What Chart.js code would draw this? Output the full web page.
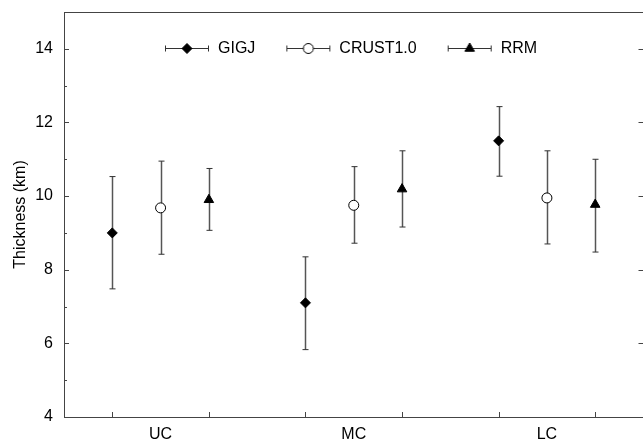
<!DOCTYPE html>
<html>
<head>
<meta charset="utf-8">
<script src="https://cdn.jsdelivr.net/npm/chart.js@4.4.1/dist/chart.umd.min.js"></script>
<style>
  html, body { margin: 0; padding: 0; background: #fff; overflow: hidden; }
  #wrap { width: 650px; height: 441px; }
</style>
</head>
<body>
<div id="wrap"><canvas id="chart" width="650" height="441"></canvas></div>
<script>
// categories along x, one group of three estimates each
const categories = ["UC", "MC", "LC"];
const seriesNames = ["GIGJ", "CRUST1.0", "RRM"];
const seriesOffsets = [-0.25, 0, 0.25];

// thickness (km)
const gigjMean = [9.0, 7.1, 11.5];
const gigjLow = [7.48, 5.83, 10.54];
const gigjHigh = [10.53, 8.35, 12.43];

const crustMean = [9.68, 9.75, 9.95];
const crustLow = [8.42, 8.72, 8.7];
const crustHigh = [10.95, 10.8, 11.23];

const rrmMean = [9.9, 10.19, 9.77];
const rrmLow = [9.07, 9.16, 8.48];
const rrmHigh = [10.75, 11.23, 11.0];

const yMin = 4;
const yMax = 15;

const means = [gigjMean, crustMean, rrmMean];
const lows = [gigjLow, crustLow, rrmLow];
const highs = [gigjHigh, crustHigh, rrmHigh];
const markers = [
  { pointStyle: "rectRot", radius: 5, fill: "#000" },
  { pointStyle: "circle", radius: 5, fill: "#fff" },
  { pointStyle: "triangle", radius: 5.5, fill: "#000" },
];

const FONT = "'Liberation Sans', Arial, Helvetica, sans-serif";
Chart.defaults.font.family = FONT;
Chart.defaults.font.size = 16;
Chart.defaults.color = "#000";

// legend symbol: horizontal bar with caps and the marker in the middle
function makeLegendIcon(marker) {
  const c = document.createElement("canvas");
  c.width = 46;
  c.height = 12;
  const ctx = c.getContext("2d");
  ctx.strokeStyle = "#333";
  ctx.lineWidth = 1;
  ctx.beginPath();
  ctx.moveTo(1, 6.5);
  ctx.lineTo(45, 6.5);
  ctx.moveTo(1.5, 3.5);
  ctx.lineTo(1.5, 9.5);
  ctx.moveTo(44.5, 3.5);
  ctx.lineTo(44.5, 9.5);
  ctx.stroke();
  ctx.fillStyle = marker.fill;
  ctx.strokeStyle = "#000";
  Chart.helpers.drawPoint(ctx, {
    pointStyle: marker.pointStyle,
    radius: marker.radius,
    rotation: 0,
    borderWidth: 1,
  }, 23, 6.5);
  return c;
}
const legendIcons = markers.map(makeLegendIcon);

const datasets = seriesNames.map((name, s) => ({
  label: name,
  data: categories.map((c, i) => ({ x: i + 1 + seriesOffsets[s], y: means[s][i] })),
  pointStyle: markers[s].pointStyle,
  pointRadius: markers[s].radius,
  pointBackgroundColor: markers[s].fill,
  pointBorderColor: "#000",
  pointBorderWidth: 1,
  showLine: false,
}));

// tick marks under the outer series of each group
const xTickMarks = [];
categories.forEach((c, i) => {
  xTickMarks.push(i + 1 + seriesOffsets[0], i + 1 + seriesOffsets[2]);
});

const errorBars = {
  id: "errorBars",
  beforeDatasetsDraw(chart) {
    const { ctx, scales: { x, y } } = chart;
    ctx.save();
    datasets.forEach((ds, s) => {
      ds.data.forEach((p, i) => {
        const px = Math.round(x.getPixelForValue(p.x)) + 0.5;
        const yl = y.getPixelForValue(lows[s][i]);
        const yh = y.getPixelForValue(highs[s][i]);
        ctx.strokeStyle = "#555";
        ctx.lineWidth = 1.5;
        ctx.beginPath();
        ctx.moveTo(px, yl);
        ctx.lineTo(px, yh);
        ctx.stroke();
        ctx.strokeStyle = "#333";
        ctx.lineWidth = 1;
        ctx.beginPath();
        ctx.moveTo(px - 3, yl);
        ctx.lineTo(px + 3, yl);
        ctx.moveTo(px - 3, yh);
        ctx.lineTo(px + 3, yh);
        ctx.stroke();
      });
    });
    ctx.restore();
  },
};

// frame, inward tick marks and the legend row inside the plot
const frame = {
  id: "frame",
  afterDraw(chart) {
    const { ctx, chartArea: a, scales: { x, y } } = chart;
    ctx.save();
    ctx.strokeStyle = "#444";
    ctx.lineWidth = 1;
    ctx.strokeRect(Math.round(a.left) + 0.5, Math.round(a.top) + 0.5,
      Math.round(a.right - a.left), Math.round(a.bottom - a.top));
    ctx.beginPath();
    y.ticks.forEach((t) => {
      const py = Math.round(y.getPixelForValue(t.value)) + 0.5;
      const major = t.value % 2 === 0;
      ctx.moveTo(a.left, py);
      ctx.lineTo(a.left + (major ? 5 : 3), py);
      if (major) {
        ctx.moveTo(a.right, py);
        ctx.lineTo(a.right - 5, py);
      }
    });
    xTickMarks.forEach((v) => {
      const px = Math.round(x.getPixelForValue(v)) + 0.5;
      ctx.moveTo(px, a.bottom);
      ctx.lineTo(px, a.bottom - 5);
    });
    ctx.stroke();

    // legend
    ctx.font = "16px " + FONT;
    ctx.fillStyle = "#000";
    ctx.textBaseline = "middle";
    ctx.textAlign = "left";
    const gap = 30, textGap = 8;
    const widths = seriesNames.map((n, i) => legendIcons[i].width + textGap + ctx.measureText(n).width);
    const total = widths.reduce((s, w) => s + w, 0) + gap * (widths.length - 1);
    let lx = Math.round((a.left + a.right) / 2 - total / 2) - 3;
    const ly = a.top + 36;
    seriesNames.forEach((n, i) => {
      const icon = legendIcons[i];
      ctx.drawImage(icon, lx, Math.round(ly - icon.height / 2));
      ctx.fillText(n, lx + icon.width + textGap, ly + 1);
      lx += widths[i] + gap;
    });
    ctx.restore();
  },
};

new Chart(document.getElementById("chart"), {
  type: "scatter",
  data: { datasets: datasets },
  plugins: [errorBars, frame],
  options: {
    responsive: false,
    animation: false,
    layout: { padding: { top: 12, right: 4, bottom: 0, left: 0 } },
    scales: {
      x: {
        type: "linear",
        min: 0.5,
        max: 3.5,
        afterBuildTicks: (scale) => {
          scale.ticks = categories.map((c, i) => ({ value: i + 1 }));
        },
        afterFit: (scale) => {
          scale.height = 24;
          scale.paddingLeft = 0;
          scale.paddingRight = 0;
        },
        ticks: {
          padding: 8,
          maxRotation: 0,
          callback: (v) => categories[v - 1],
        },
        grid: { display: false, drawTicks: false },
        border: { display: false },
      },
      y: {
        min: yMin,
        max: yMax,
        afterFit: (scale) => {
          scale.width = 64;
          scale.paddingTop = 0;
          scale.paddingBottom = 0;
        },
        ticks: {
          stepSize: 1,
          padding: 11,
          callback: (v) => (v % 2 === 0 ? v : ""),
        },
        title: {
          display: true,
          text: "Thickness (km)",
          font: { size: 16 },
          padding: { top: 11, bottom: 0 },
        },
        grid: { display: false, drawTicks: false },
        border: { display: false },
      },
    },
    plugins: {
      tooltip: { enabled: false },
      legend: { display: false },
    },
  },
});
</script>
</body>
</html>
